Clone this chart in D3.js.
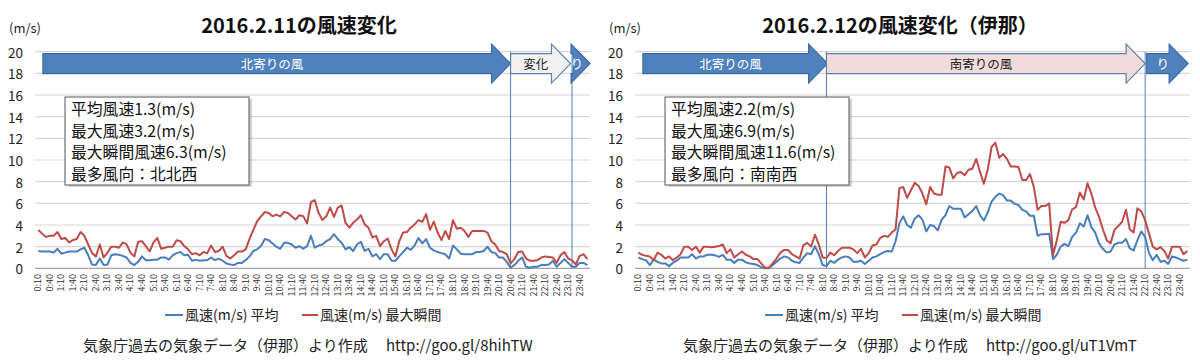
<!DOCTYPE html>
<html><head><meta charset="utf-8">
<script src="https://cdn.jsdelivr.net/npm/d3@7"></script>
<style>
html,body{margin:0;padding:0;background:#fff;}
svg{display:block;font-family:"Noto Sans CJK JP","Noto Sans",sans-serif;}
</style></head>
<body>
<svg id="chart" width="1200" height="363"></svg>
<script>
// ---- categories (10-minute observations) ----
const times = ["0:10","0:20","0:30","0:40","0:50","1:00","1:10","1:20","1:30","1:40","1:50","2:00",
"2:10","2:20","2:30","2:40","2:50","3:00","3:10","3:20","3:30","3:40","3:50","4:00",
"4:10","4:20","4:30","4:40","4:50","5:00","5:10","5:20","5:30","5:40","5:50","6:00",
"6:10","6:20","6:30","6:40","6:50","7:00","7:10","7:20","7:30","7:40","7:50","8:00",
"8:10","8:20","8:30","8:40","8:50","9:00","9:10","9:20","9:30","9:40","9:50","10:00",
"10:10","10:20","10:30","10:40","10:50","11:00","11:10","11:20","11:30","11:40","11:50","12:00",
"12:10","12:20","12:30","12:40","12:50","13:00","13:10","13:20","13:30","13:40","13:50","14:00",
"14:10","14:20","14:30","14:40","14:50","15:00","15:10","15:20","15:30","15:40","15:50","16:00",
"16:10","16:20","16:30","16:40","16:50","17:00","17:10","17:20","17:30","17:40","17:50","18:00",
"18:10","18:20","18:30","18:40","18:50","19:00","19:10","19:20","19:30","19:40","19:50","20:00",
"20:10","20:20","20:30","20:40","20:50","21:00","21:10","21:20","21:30","21:40","21:50","22:00",
"22:10","22:20","22:30","22:40","22:50","23:00","23:10","23:20","23:30","23:40","23:50","24:00"];
const tickLabels = ["0:10","0:40","1:10","1:40","2:10","2:40","3:10","3:40","4:10","4:40","5:10","5:40",
"6:10","6:40","7:10","7:40","8:10","8:40","9:10","9:40","10:10","10:40","11:10","11:40",
"12:10","12:40","13:10","13:40","14:10","14:40","15:10","15:40","16:10","16:40","17:10","17:40",
"18:10","18:40","19:10","19:40","20:10","20:40","21:10","21:40","22:10","22:40","23:10","23:40"];
const yTicks = [0,2,4,6,8,10,12,14,16,18,20];

// ---- 2016.2.11 ----
const avg0211 = [1.6,1.55,1.55,1.55,1.45,1.8,1.35,1.45,1.55,1.55,
1.55,1.75,1.9,1.2,0.35,0.3,0.9,0.3,0.35,1.2,
1.3,1.25,1.15,1.0,0.5,0.3,0.6,1.1,0.75,0.75,
0.8,0.8,1.0,1.0,0.8,1.2,1.4,1.5,1.2,1.25,
0.7,0.8,0.7,0.75,0.75,1.0,0.75,0.9,0.7,0.45,
0.35,0.3,0.5,0.5,0.75,1.1,1.6,1.75,2.05,2.7,
2.6,2.3,2.0,1.8,2.35,2.35,2.2,1.9,2.05,1.8,
2.05,3.0,1.9,2.1,2.2,2.5,2.7,3.15,2.7,2.35,
1.75,1.95,1.6,2.2,2.45,1.6,1.8,1.1,1.3,0.85,
1.3,1.3,0.7,0.7,1.1,1.5,1.9,1.7,2.1,2.8,
2.3,2.7,1.9,1.65,1.5,1.4,1.3,0.9,2.1,1.75,
1.35,1.3,1.3,1.3,1.5,1.5,1.6,2.0,1.5,1.4,
1.0,1.0,0.6,0.05,0.3,0.7,1.0,0.15,0.05,0.15,
0.15,0.3,0.3,0.35,0.7,0.15,0.5,0.85,0.5,0.15,
0.15,0.5,0.5,0.3];
const gust0211 = [3.54,3.2,2.9,3.0,3.0,3.35,2.7,2.8,2.4,2.6,
2.7,3.35,3.0,2.2,1.4,1.1,2.2,1.0,1.45,2.0,
2.0,1.9,2.4,2.2,1.45,1.1,2.45,2.5,2.05,1.55,
2.4,2.8,1.8,1.9,2.0,2.0,2.6,2.5,2.05,1.75,
1.3,1.4,1.2,1.5,1.4,2.1,1.5,1.6,2.0,1.15,
0.9,1.2,1.55,1.55,1.75,2.7,3.55,4.35,4.8,5.2,
5.1,4.8,4.95,4.8,5.2,5.1,4.8,4.5,4.9,4.8,
4.15,6.1,6.3,5.1,4.45,4.8,5.6,4.75,5.6,5.8,
4.2,3.75,4.2,4.5,4.9,4.05,3.75,2.85,3.0,2.05,
2.5,2.75,1.75,1.1,2.5,3.3,3.35,3.75,4.05,4.45,
4.3,5.0,3.55,4.3,3.3,2.6,3.45,2.7,4.45,3.65,
3.75,3.45,2.9,3.45,3.45,3.45,3.45,3.3,2.5,2.2,
1.6,1.5,1.3,0.45,0.85,1.5,1.55,0.9,0.7,0.7,
0.75,1.0,1.1,1.05,1.0,0.5,1.2,1.5,0.9,0.75,
0.35,1.15,1.3,0.85];
const stats0211 = ["平均風速1.3(m/s)","最大風速3.2(m/s)","最大瞬間風速6.3(m/s)","最多風向：北北西"];
// arrows: [start index, tip index, label, kind]
const arrows0211 = [[1.2,123,"北寄りの風","blue"],[123,138.6,"変化","gray"],[139.3,143.7,"り","blue"]];
const bounds0211 = [123,139];

// ---- 2016.2.12 ----
const avg0212 = [1.0,0.85,0.75,0.3,0.8,0.6,0.45,0.45,0.2,0.5,
0.7,1.0,1.0,1.0,1.3,0.9,1.1,1.1,1.25,1.25,
1.2,1.05,1.25,0.8,0.8,0.5,0.8,0.8,0.55,0.45,
0.4,0.3,0.1,0.0,0.0,0.3,0.6,0.9,1.1,1.0,
0.7,0.55,0.5,1.0,1.4,1.3,2.05,1.3,0.3,0.2,
0.7,0.5,0.8,1.0,1.1,1.0,0.6,0.6,0.7,0.4,
0.7,1.0,1.1,1.3,1.5,1.6,1.55,2.5,4.15,4.8,
4.0,3.75,4.6,4.9,4.5,3.4,4.0,3.9,3.5,4.5,
4.9,5.75,5.5,5.5,5.5,4.7,5.0,5.3,5.75,4.9,
4.4,5.15,6.15,6.6,6.9,6.75,6.25,6.25,5.95,5.85,
5.4,5.25,4.85,4.85,3.0,3.15,3.15,3.2,0.85,1.25,
2.0,2.25,2.05,2.9,3.3,4.15,3.85,4.9,3.8,3.3,
2.3,1.8,1.45,1.55,2.2,2.35,2.35,2.7,1.85,1.65,
2.6,3.4,2.9,1.4,0.75,1.25,0.6,0.7,0.4,1.1,
1.0,0.85,0.7,0.8];
const gust0212 = [1.45,1.25,1.15,1.1,0.75,1.45,1.25,0.9,1.1,0.75,
1.0,1.3,2.0,2.0,1.7,2.0,1.45,2.0,2.0,1.95,
2.0,2.05,2.2,1.4,1.75,1.0,1.3,1.55,1.25,1.1,
0.85,0.85,0.45,0.05,0.05,0.45,0.9,1.45,1.7,1.7,
1.3,1.1,0.9,2.15,2.35,2.0,3.1,2.2,1.0,0.95,
1.45,1.2,1.6,1.9,1.9,1.9,1.75,1.4,1.8,1.0,
1.4,2.1,2.2,2.8,3.0,2.9,3.3,3.6,7.4,7.5,
6.5,7.2,7.9,7.6,6.9,5.9,7.5,6.9,6.8,6.8,
9.4,9.3,8.3,8.8,8.9,8.6,9.1,9.2,10.1,8.9,
7.8,9.1,11.2,11.6,10.2,10.55,10.1,9.4,9.4,9.35,
8.15,8.15,8.7,7.5,5.4,5.75,5.75,6.0,1.2,2.6,
4.3,4.2,4.45,5.45,5.65,7.0,6.35,7.85,6.9,5.6,
4.75,3.6,2.6,2.3,3.55,3.9,4.3,5.4,3.6,3.3,
5.55,5.25,4.45,3.2,2.0,1.75,1.95,1.6,0.9,2.0,
2.0,2.0,1.3,1.6];
const stats0212 = ["平均風速2.2(m/s)","最大風速6.9(m/s)","最大瞬間風速11.6(m/s)","最多風向：南南西"];
const arrows0212 = [[1.2,49.3,"北寄りの風","blue"],[49,132,"南寄りの風","pink"],[132.4,143.2,"り","blue"]];
const bounds0212 = [49,132];

const legendNames = ["風速(m/s) 平均","風速(m/s) 最大瞬間"];
const sourceText = "気象庁過去の気象データ（伊那）より作成";

const panels = [
  {ox:0, title:"2016.2.11の風速変化", avg:avg0211, gust:gust0211, stats:stats0211, arrows:arrows0211, bounds:bounds0211, url:"http://goo.gl/8hihTW", tx:299},
  {ox:600, title:"2016.2.12の風速変化（伊那）", avg:avg0212, gust:gust0212, stats:stats0212, arrows:arrows0212, bounds:bounds0212, url:"http://goo.gl/uT1VmT", tx:300}
];

const BLUE="#4a7ebb", RED="#be4b48";
const svg = d3.select("#chart");

panels.forEach(p => {
  const g = svg.append("g");
  const ox = p.ox;
  const x = d3.scalePoint().domain(times).range([ox+36.4, ox+589.3]).padding(0.5);
  const step = x.step();
  const xi = i => x(times[0]) + i*step;
  const y = d3.scaleLinear().domain([0,20]).range([268.3, 51.7]);

  // title & unit
  g.append("text").attr("x",ox+p.tx).attr("y",24).attr("text-anchor","middle")
    .attr("dominant-baseline","central").attr("font-size",20).attr("font-weight","bold")
    .attr("fill","#111").text(p.title);
  g.append("text").attr("x",ox+9).attr("y",27).attr("dominant-baseline","central")
    .attr("font-size",13).attr("fill","#222").text("(m/s)");

  // grid
  g.selectAll(".grid").data(yTicks.filter(d=>d>0)).join("line")
    .attr("x1",ox+35).attr("x2",ox+590).attr("y1",d=>y(d)).attr("y2",d=>y(d))
    .attr("stroke","#d6d6d6").attr("stroke-width",1.2);
  g.append("line").attr("x1",ox+35).attr("x2",ox+590).attr("y1",y(0)).attr("y2",y(0))
    .attr("stroke","#8c8c8c").attr("stroke-width",1);

  // y labels
  g.selectAll(".yl").data(yTicks).join("text")
    .attr("x",ox+23).attr("y",d=>y(d)).attr("text-anchor","end").attr("dominant-baseline","central")
    .attr("font-size",13.5).attr("fill","#222").text(d=>d);

  // x labels
  g.selectAll(".xl").data(tickLabels).join("text")
    .attr("transform",d=>`translate(${x(d)+3},${274}) rotate(-90)`)
    .attr("text-anchor","end").attr("font-size",9).attr("fill","#333").text(d=>d);

  // boundary lines
  g.selectAll(".bd").data(p.bounds).join("line")
    .attr("x1",i=>x(times[i])).attr("x2",i=>x(times[i]))
    .attr("y1",y(20)).attr("y2",y(0)).attr("stroke","#4f81bd").attr("stroke-width",1);

  // arrows
  const yMid = y(18.9), bh = 10, hh = 19.5, hl = 19;
  const fills = {blue:["#4f81bd","#3d6ba3"], gray:["#f2f2f2","#5b7fae"], pink:["#f2dcdb","#5b7fae"]};
  p.arrows.forEach(a => {
    const x0 = xi(a[0]), x1 = xi(a[1]), hb = x1 - hl;
    const pts = [[x0,yMid-bh],[hb,yMid-bh],[hb,yMid-hh],[x1,yMid],[hb,yMid+hh],[hb,yMid+bh],[x0,yMid+bh]];
    g.append("path").attr("d", d3.line()(pts)+"Z")
      .attr("fill",fills[a[3]][0]).attr("stroke",fills[a[3]][1]).attr("stroke-width",1.2);
    g.append("text").attr("x",(x0+x1-hl/2)/2).attr("y",yMid).attr("text-anchor","middle")
      .attr("dominant-baseline","central").attr("font-size",12.5)
      .attr("fill", a[3]==="blue" ? "#fff" : "#222").text(a[2]);
  });

  // series
  const line = d3.line().x((d,i)=>x(times[i])).y(d=>y(d));
  g.append("path").datum(p.avg).attr("d",line).attr("fill","none")
    .attr("stroke",BLUE).attr("stroke-width",2).attr("stroke-linejoin","round");
  g.append("path").datum(p.gust).attr("d",line).attr("fill","none")
    .attr("stroke",RED).attr("stroke-width",2).attr("stroke-linejoin","round");

  // info box
  g.append("rect").attr("x",ox+66).attr("y",97).attr("width",184).attr("height",88)
    .attr("fill","#7f7f7f").attr("opacity",0.35).attr("transform","translate(2,2)");
  g.append("rect").attr("x",ox+65).attr("y",97).attr("width",184).attr("height",88)
    .attr("fill","#fff").attr("stroke","#555").attr("stroke-width",1);
  g.selectAll(".st").data(p.stats).join("text")
    .attr("x",ox+71).attr("y",(d,i)=>108.5+i*21.6).attr("dominant-baseline","central")
    .attr("font-size",15.8).attr("fill","#111").text(d=>d);

  // legend
  const lg = [[165,183,185,BLUE],[302,318,320,RED]];
  lg.forEach((l,k)=>{
    g.append("line").attr("x1",ox+l[0]).attr("x2",ox+l[1]).attr("y1",315).attr("y2",315)
      .attr("stroke",l[3]).attr("stroke-width",2);
    g.append("text").attr("x",ox+l[2]).attr("y",314).attr("dominant-baseline","central")
      .attr("font-size",14).attr("fill","#222").text(legendNames[k]);
  });

  // source
  g.append("text").attr("x",ox+83).attr("y",344).attr("dominant-baseline","central")
    .attr("font-size",15).attr("fill","#222").text(sourceText);
  g.append("text").attr("x",ox+386).attr("y",344).attr("dominant-baseline","central")
    .attr("font-size",15).attr("fill","#222").text(p.url);
});
</script>
</body></html>
